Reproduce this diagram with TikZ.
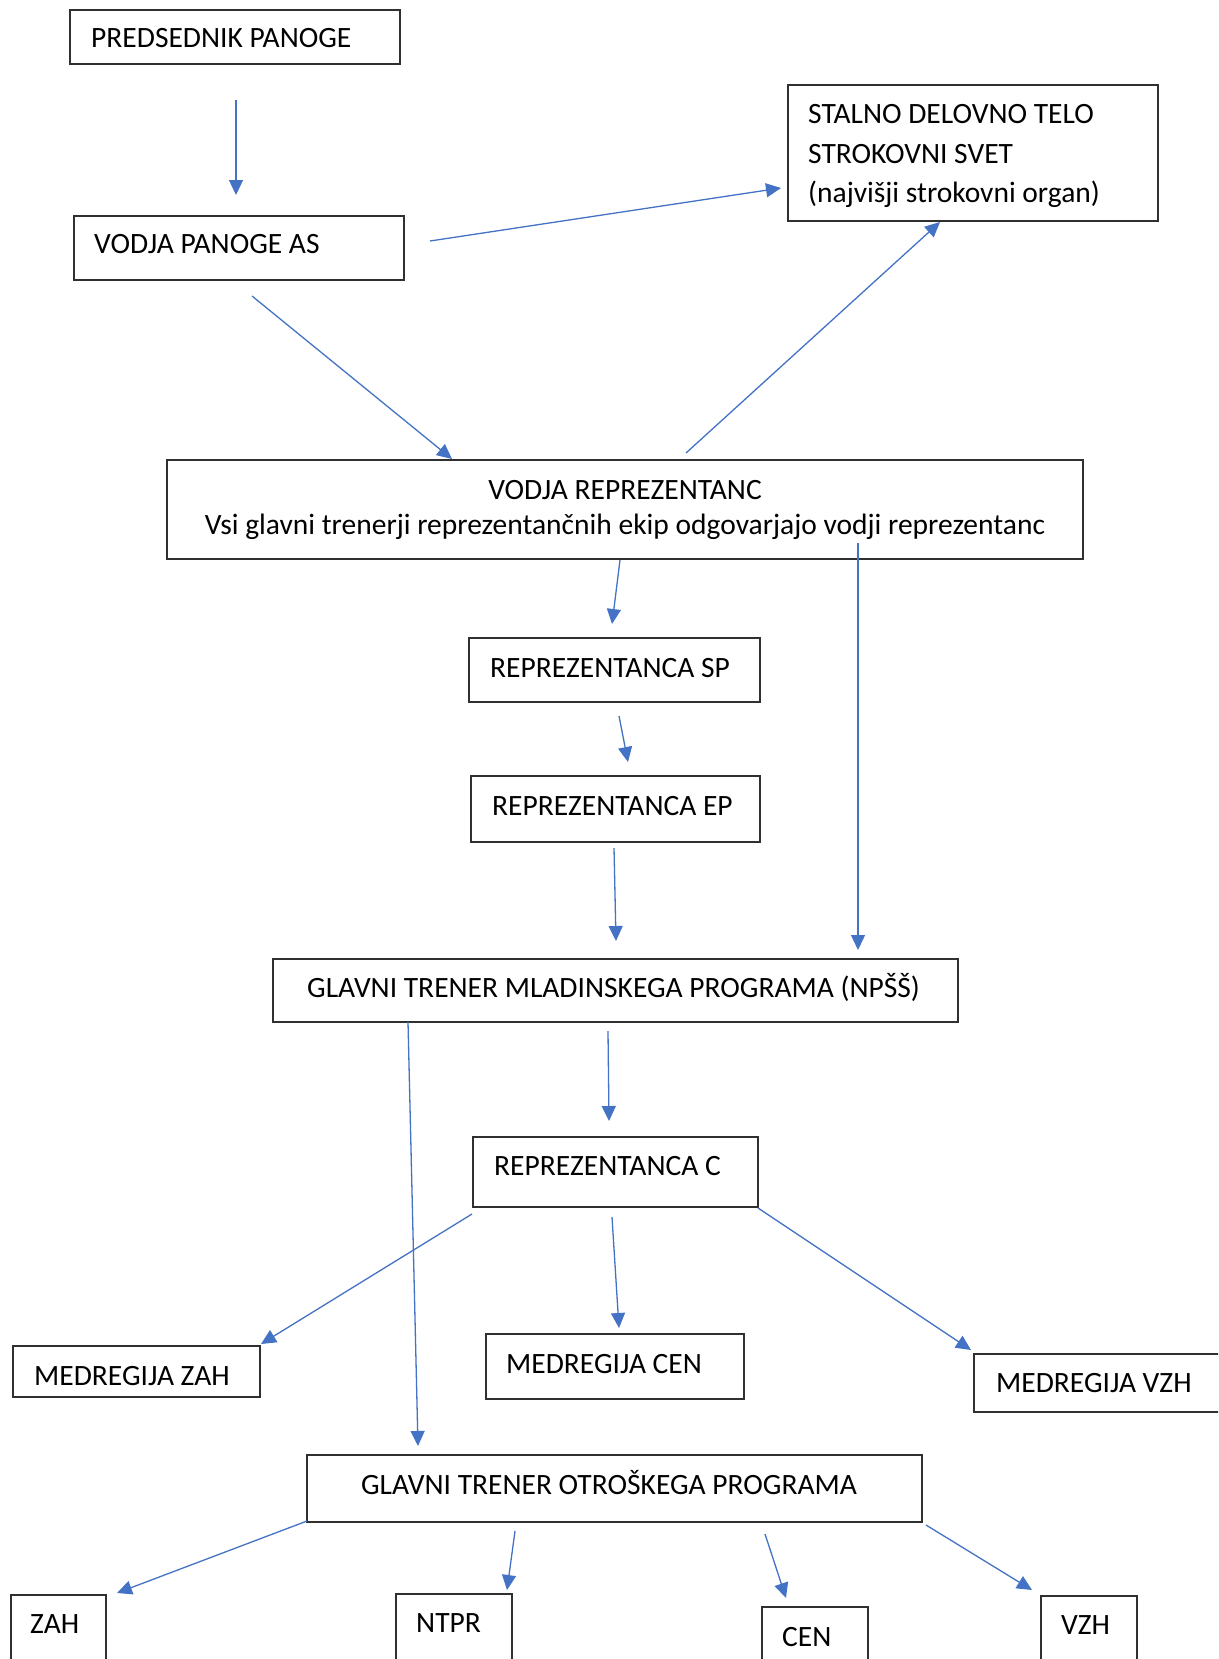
\documentclass[tikz,border=0pt]{standalone}
\usepackage{fontspec}
\setmainfont{Carlito}
\usetikzlibrary{arrows.meta}
\definecolor{arrc}{HTML}{4472C4}
\definecolor{boxc}{HTML}{303030}
\tikzset{
  box/.style={draw=boxc, line width=1.3pt, inner sep=0pt, outer sep=0pt, anchor=north west},
  lbl/.style={inner sep=0pt, anchor=base west, font=\fontsize{29.5}{38}\selectfont},
  lblc/.style={inner sep=0pt, anchor=base, font=\fontsize{29.5}{38}\selectfont},
  arr/.style={draw=arrc, line width=1.3pt, -{Triangle[length=15pt,width=14pt]}, shorten >=0pt}
}
\newcommand{\bx}[5]{\node[box, minimum width=#4pt, minimum height=#5pt] (#1) at (#2,#3) {};}
\begin{document}
\begin{tikzpicture}[x=1pt,y=-1pt]
\useasboundingbox (0,0) rectangle (1218,1659);
\clip (0,0) rectangle (1218,1659);
\fill[white] (0,0) rectangle (1218,1659);
% boxes
\bx{pp}{70}{10}{330}{54}
\bx{vpa}{74}{216}{330}{64}
\bx{sdt}{788}{85}{370}{136}
\bx{vr}{167}{460}{916}{99}
\bx{sp}{469}{638}{291}{64}
\bx{ep}{471}{776}{289}{66}
\bx{gt}{273}{959}{685}{63}
\bx{rc}{473}{1137}{285}{70}
\bx{mzah}{13}{1346}{247}{51}
\bx{mcen}{486}{1334}{258}{65}
\bx{mvzh}{974}{1354}{260}{58}
\bx{gto}{307}{1455}{615}{67}
\bx{zah}{11}{1595}{95}{90}
\bx{ntpr}{396}{1594}{116}{90}
\bx{cen}{762}{1607}{106}{90}
\bx{vzh}{1041}{1596}{96}{90}
% texts
\node[lbl] (t-pp) at (91,48) {PREDSEDNIK PANOGE};
\node[lbl] (t-vpa) at (94,253) {VODJA PANOGE AS};
\node[lbl] (t-sdt1) at (808,124) {STALNO DELOVNO TELO};
\node[lbl] (t-sdt2) at (808,163) {STROKOVNI SVET};
\node[lbl] (t-sdt3) at (808,202) {(najvišji strokovni organ)};
\node[lblc] (t-vr1) at (625,499) {VODJA REPREZENTANC};
\node[lblc] (t-vr2) at (625,534) {Vsi glavni trenerji reprezentančnih ekip odgovarjajo vodji reprezentanc};
\node[lbl] (t-sp) at (490,677) {REPREZENTANCA SP};
\node[lbl] (t-ep) at (492,815) {REPREZENTANCA EP};
\node[lbl] (t-gt) at (307,997) {GLAVNI TRENER MLADINSKEGA PROGRAMA (NPŠŠ)};
\node[lbl] (t-rc) at (494,1175) {REPREZENTANCA C};
\node[lbl] (t-mzah) at (34,1385) {MEDREGIJA ZAH};
\node[lbl] (t-mcen) at (506,1373) {MEDREGIJA CEN};
\node[lbl] (t-mvzh) at (996,1392) {MEDREGIJA VZH};
\node[lblc] (t-gto) at (609,1494) {GLAVNI TRENER OTROŠKEGA PROGRAMA};
\node[lbl] (t-zah) at (30,1633) {ZAH};
\node[lbl] (t-ntpr) at (416,1632) {NTPR};
\node[lbl] (t-cen) at (782,1646) {CEN};
\node[lbl] (t-vzh) at (1061,1634) {VZH};
% arrow end points
\coordinate (a1s) at (236,100);  \coordinate (a1e) at (236,195);
\coordinate (a2s) at (430,241);  \coordinate (a2e) at (781,188);
\coordinate (a3s) at (252,296);  \coordinate (a3e) at (452,459);
\coordinate (a4s) at (686,453);  \coordinate (a4e) at (940,222);
\coordinate (a5s) at (620,560);  \coordinate (a5e) at (612,624);
\coordinate (a6s) at (619,716);  \coordinate (a6e) at (628,762);
\coordinate (a7s) at (614,848);  \coordinate (a7e) at (616,941);
\coordinate (a8s) at (858,543);  \coordinate (a8e) at (858,950);
\coordinate (a9s) at (608,1031); \coordinate (a9e) at (609,1121);
\coordinate (a10s) at (408,1022); \coordinate (a10e) at (418,1446);
\coordinate (a11s) at (472,1214); \coordinate (a11e) at (261,1344);
\coordinate (a12s) at (612,1217); \coordinate (a12e) at (619,1328);
\coordinate (a13s) at (758,1208); \coordinate (a13e) at (971,1350);
\coordinate (a14s) at (307,1521); \coordinate (a14e) at (117,1593);
\coordinate (a15s) at (515,1531); \coordinate (a15e) at (507,1590);
\coordinate (a16s) at (765,1534); \coordinate (a16e) at (786,1598);
\coordinate (a17s) at (926,1525); \coordinate (a17e) at (1032,1590);
\foreach \i in {1,...,17} { \draw[arr] (a\i s) -- (a\i e); }
\end{tikzpicture}
\end{document}
